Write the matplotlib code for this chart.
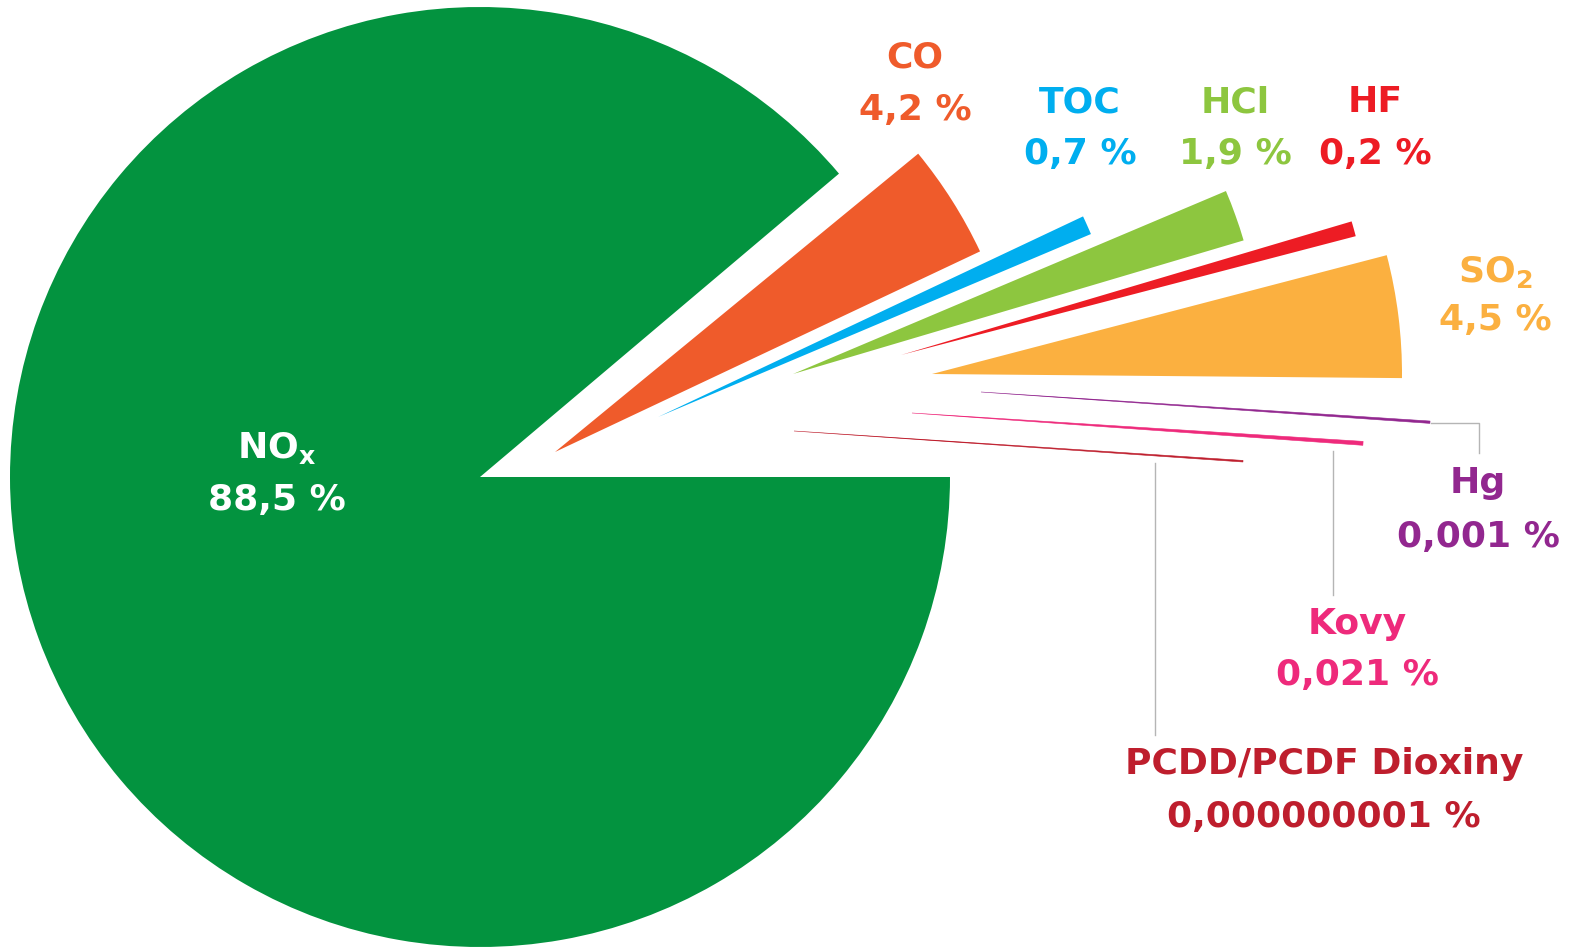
import numpy as np
import matplotlib
matplotlib.use('Agg')
import matplotlib.pyplot as plt
from matplotlib.patches import Wedge

# data
nazvy = ['NO$_\\mathrm{x}$', 'CO', 'TOC', 'HCl', 'HF', 'SO$_\\mathrm{2}$', 'Hg', 'Kovy', 'PCDD/PCDF Dioxiny']
hodnoty = [88.5, 4.2, 0.7, 1.9, 0.2, 4.5, 0.001, 0.021, 0.000000001]
barvy = ['#03933F', '#EF5B2B', '#00AEEF', '#8DC63F', '#ED1C24', '#FBB040', '#92278F', '#EE2A7B', '#BE1E2D']

plt.rcParams['font.family'] = ['DejaVu Sans']
plt.rcParams['mathtext.fontset'] = 'custom'
plt.rcParams['mathtext.rm'] = 'DejaVu Sans:bold'
plt.rcParams['mathtext.it'] = 'DejaVu Sans:bold'
plt.rcParams['mathtext.bf'] = 'DejaVu Sans:bold'

W, H = 1572, 949
fig = plt.figure(figsize=(W / 100, H / 100), dpi=100)
ax = fig.add_axes([0, 0, 1, 1])
ax.set_xlim(0, W)
ax.set_ylim(0, H)
ax.axis('off')

stred = np.array([480, 472])
R = 470

# uhly: NOx podle hodnoty, male vysece rozprostrene do mezery
nox_start = 360 - hodnoty[0] * 3.6
male = [5, 4, 3, 2, 1]  # SO2, HF, HCl, TOC, CO (proti smeru hodinek)
sirky = np.array([max(hodnoty[i] * 3.6, 2.0) for i in male])
k = (nox_start - 1.5) / sirky.sum()
uhly = {0: (nox_start - 1.2, 360)}
t = -0.5
for i, s in zip(male, sirky * k):
    uhly[i] = (t, t + s)
    t += s

# tenke vysece pod vodorovnou osou
tenke_sirka = {6: 0.3, 7: 0.5, 8: 0.2}
for i, s in tenke_sirka.items():
    uhly[i] = (-3.85 - s / 2, -3.85 + s / 2)

# posunuti vysuvnych vyseci (px)
posun = {0: (0, 0), 1: (75, 25), 2: (178, 60), 3: (313, 103), 4: (421, 122),
         5: (452, 103), 6: (501, 85), 7: (432, 64), 8: (314, 46)}
polomer = {6: 450, 7: 452, 8: 450}

for i in range(len(hodnoty)):
    t1, t2 = uhly[i]
    c = stred + np.array(posun[i])
    ax.add_patch(Wedge(c, polomer.get(i, R), t1, t2, facecolor=barvy[i],
                       edgecolor=barvy[i] if i >= 6 else 'none', lw=0.4))

# vodici cary
seda = '#B5B5B5'
ax.plot([1431, 1479, 1479], [526, 526, 496], color=seda, lw=1)
ax.plot([1333, 1333], [498, 354], color=seda, lw=1)
ax.plot([1155, 1155], [486, 214], color=seda, lw=1)

# popisky: (x, y nazvu, y hodnoty)
popisky = {0: (277, 491, 439), 1: (915, 882, 829), 2: (1080, 837, 785),
           3: (1235, 837, 785), 4: (1375, 837, 785), 5: (1495, 667, 619),
           6: (1478, 456, 402), 7: (1357, 315, 264), 8: (1324, 175, 122)}
for i, (x, y1, y2) in popisky.items():
    barva = 'white' if i == 0 else barvy[i]
    text_hod = np.format_float_positional(hodnoty[i]).replace('.', ',') + ' %'
    ax.text(x, y1, nazvy[i], ha='center', va='baseline', color=barva,
            fontsize=26, fontweight='bold')
    ax.text(x, y2, text_hod, ha='center', va='baseline', color=barva,
            fontsize=26, fontweight='bold')

fig.savefig('out.png', dpi=100, facecolor='white')
